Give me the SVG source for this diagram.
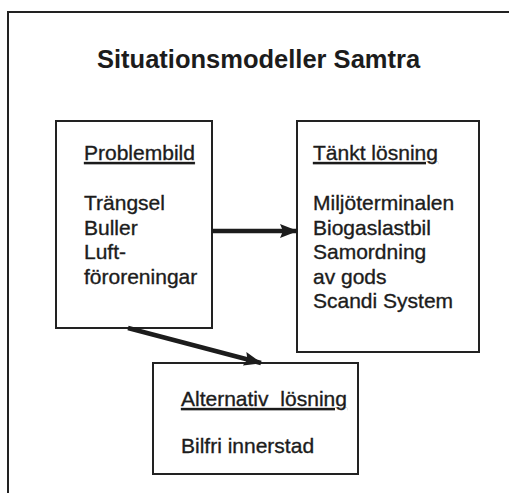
<svg xmlns="http://www.w3.org/2000/svg" width="509" height="493" viewBox="0 0 509 493">
<style>
  text { font-family: "Liberation Sans", Arial, sans-serif; fill: #1c1c1c; }
  .t { font-size: 21px; stroke: #1c1c1c; stroke-width: 0.35; }
  .title { font-size: 25.5px; font-weight: bold; }
  .u { text-decoration: underline; }
  .box { fill: #fff; stroke: #222; stroke-width: 2; }
  .frame { fill: none; stroke: #222; stroke-width: 2; }
  .conn { stroke: #1c1c1c; stroke-width: 4.5; fill: none; }
</style>
<defs>
  <marker id="ah" markerUnits="userSpaceOnUse" markerWidth="18" markerHeight="16" refX="17" refY="8" orient="auto">
    <path d="M0,1 L18,8 L0,15 L3,8 Z" fill="#1c1c1c"/>
  </marker>
</defs>
<rect width="509" height="493" fill="#fff"/>
<path class="frame" d="M8,493 L8,12 L509,12"/>
<text class="title" x="97" y="68">Situationsmodeller Samtra</text>

<g id="problembild">
  <rect class="box" x="56" y="121" width="156" height="207"/>
  <text class="t u" x="84" y="160">Problembild</text>
  <text class="t" x="84" y="210">Trängsel</text>
  <text class="t" x="84" y="234.5">Buller</text>
  <text class="t" x="84" y="259">Luft-</text>
  <text class="t" x="84" y="283.5">föroreningar</text>
</g>

<g id="tankt-losning">
  <rect class="box" x="297" y="121" width="182" height="231"/>
  <text class="t u" x="313" y="160">Tänkt lösning</text>
  <text class="t" x="313" y="210">Miljöterminalen</text>
  <text class="t" x="313" y="234.5">Biogaslastbil</text>
  <text class="t" x="313" y="259">Samordning</text>
  <text class="t" x="313" y="283.5">av gods</text>
  <text class="t" x="313" y="308">Scandi System</text>
</g>

<g id="alternativ-losning">
  <rect class="box" x="153" y="363" width="205" height="111"/>
  <text class="t u" x="181" y="406" word-spacing="6">Alternativ lösning</text>
  <text class="t" x="181" y="453">Bilfri innerstad</text>
</g>

<g id="connectors">
  <line class="conn" x1="212" y1="231" x2="297" y2="231" marker-end="url(#ah)"/>
  <line class="conn" x1="128" y1="328" x2="261" y2="363" marker-end="url(#ah)"/>
</g>
</svg>
